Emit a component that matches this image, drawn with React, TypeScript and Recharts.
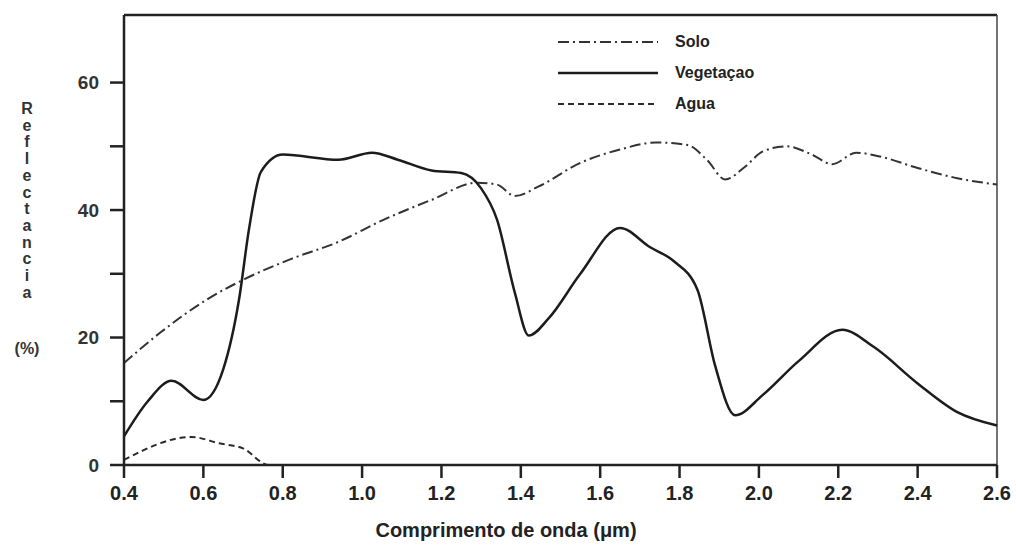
import { LineChart, Line, XAxis, YAxis, ReferenceLine, Legend } from "recharts";

// wavelength (µm) and reflectance (%)
const soloWl = [0.4, 0.49, 0.61, 0.705, 0.82, 0.94, 1.055, 1.175, 1.29, 1.34, 1.385, 1.445, 1.55, 1.65, 1.74, 1.82, 1.87, 1.915, 1.965, 2.01, 2.07, 2.13, 2.185, 2.245, 2.305, 2.4, 2.5, 2.6];
const soloRefl = [16, 20.7, 26, 29.2, 32.3, 35, 38.5, 41.6, 44.3, 44, 42.2, 43.7, 47.4, 49.5, 50.6, 50.2, 47.8, 44.8, 46.8, 49.2, 50, 48.8, 47.2, 49, 48.4, 46.6, 45, 44];

const vegetacaoWl = [0.4, 0.46, 0.52, 0.6, 0.65, 0.69, 0.715, 0.745, 0.8, 0.94, 1.025, 1.09, 1.175, 1.25, 1.3, 1.34, 1.385, 1.42, 1.47, 1.55, 1.65, 1.725, 1.785, 1.845, 1.89, 1.94, 2.01, 2.1, 2.21, 2.29, 2.4, 2.5, 2.6];
const vegetacaoRefl = [4.5, 10, 13.2, 10.2, 15, 26, 37, 46, 48.7, 47.9, 49, 47.9, 46.2, 45.8, 43.4, 38.5, 27, 20.3, 23, 30, 37.2, 34.2, 32, 27.5, 15.5, 7.8, 11, 16.3, 21.2, 18.5, 12.8, 8.3, 6.2];

const aguaWl = [0.4, 0.57, 0.64, 0.7, 0.765, 2.6];
const aguaRefl = [0.8, 4.4, 3.4, 2.6, 0, 0];

const xTicks = [0.4, 0.6, 0.8, 1.0, 1.2, 1.4, 1.6, 1.8, 2.0, 2.2, 2.4, 2.6];
const yTicks = [0, 10, 20, 30, 40, 50, 60];
const yLabelled = [0, 20, 40, 60];
const Y_MAX = 70.6;

const zip = (wl: number[], refl: number[]) => wl.map((w, i) => ({ wl: w, r: refl[i] }));

const INK = "#222";
const FONT = "'Liberation Sans', Arial, sans-serif";

const series = [
  { name: "Solo", data: zip(soloWl, soloRefl), dash: "11 4 2 4", width: 2, color: "#333" },
  { name: "Vegetaçao", data: zip(vegetacaoWl, vegetacaoRefl), dash: undefined, width: 2.5, color: "#1c1c1c" },
  { name: "Agua", data: zip(aguaWl, aguaRefl), dash: "6 4", width: 2, color: "#2a2a2a" },
];

const YTitle = () => (
  <g>
    {"Reflectancia".split("").map((ch, i) => (
      <text key={i} x={27} y={114 + i * 16.7} textAnchor="middle" fontFamily={FONT} fontWeight="bold" fontSize={16} fill="#333">
        {ch}
      </text>
    ))}
    <text x={27} y={354} textAnchor="middle" fontFamily={FONT} fontWeight="bold" fontSize={16} fill="#333">(%)</text>
  </g>
);

const XTitle = () => (
  <text x={506} y={537} textAnchor="middle" fontFamily={FONT} fontWeight="bold" fontSize={20} fill={INK}>
    Comprimento de onda (μm)
  </text>
);

const renderLegend = () => (
  <div style={{ fontFamily: FONT, fontWeight: "bold", fontSize: 16, color: INK }}>
    {series.map((s) => (
      <div key={s.name} style={{ display: "flex", alignItems: "center", height: 31 }}>
        <svg width={100} height={6} style={{ marginRight: 17 }}>
          <line x1={0} y1={3} x2={100} y2={3} stroke={s.color} strokeWidth={s.width} strokeDasharray={s.dash} />
        </svg>
        <span>{s.name}</span>
      </div>
    ))}
  </div>
);

export default function App() {
  return (
    <div style={{ position: "absolute", left: 0, top: 0, background: "#fff" }}>
      <LineChart width={1016} height={551} margin={{ top: 15, right: 19, left: 0, bottom: 0 }}>
        <XAxis
          type="number"
          dataKey="wl"
          domain={[0.4, 2.6]}
          ticks={xTicks}
          tickFormatter={(v: number) => v.toFixed(1)}
          height={86}
          tickSize={13}
          tickMargin={8}
          stroke={INK}
          strokeWidth={2.5}
          tick={{ fill: INK, fontSize: 20, fontFamily: FONT, fontWeight: 600 }}
          label={<XTitle />}
        />
        <YAxis
          type="number"
          dataKey="r"
          domain={[0, Y_MAX]}
          ticks={yTicks}
          tickFormatter={(v: number) => (yLabelled.includes(v) ? String(v) : "")}
          width={124}
          tickSize={14}
          tickMargin={11}
          stroke={INK}
          strokeWidth={2.5}
          tick={{ fill: "#333", fontSize: 19, fontFamily: FONT, fontWeight: "bold" }}
          label={<YTitle />}
        />
        <ReferenceLine y={Y_MAX} stroke={INK} strokeWidth={2.5} />
        <ReferenceLine x={2.6} stroke="#444" strokeWidth={1.5} />
        <Legend
          layout="vertical"
          verticalAlign="middle"
          align="center"
          content={renderLegend}
          wrapperStyle={{ left: 558, top: 26, width: "auto" }}
        />
        {series.map((s) => (
          <Line
            key={s.name}
            data={s.data}
            dataKey="r"
            name={s.name}
            type="monotone"
            stroke={s.color}
            strokeWidth={s.width}
            strokeDasharray={s.dash}
            dot={false}
            activeDot={false}
            isAnimationActive={false}
          />
        ))}
      </LineChart>
    </div>
  );
}
